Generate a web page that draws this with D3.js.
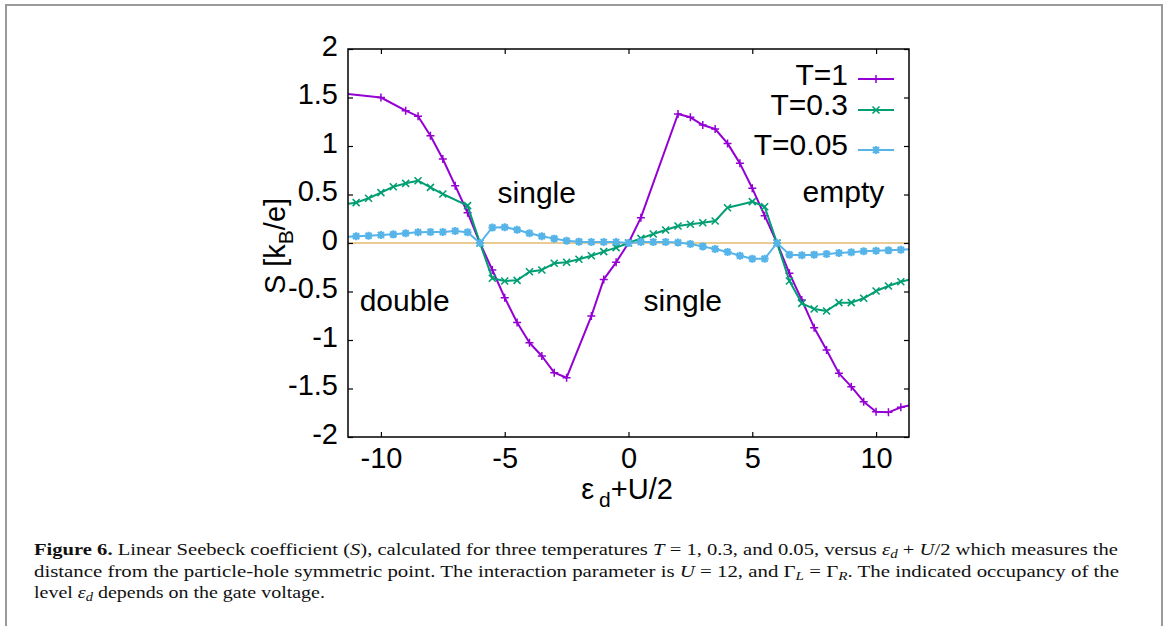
<!DOCTYPE html>
<html>
<head>
<meta charset="utf-8">
<script src="https://cdn.jsdelivr.net/npm/d3@7"></script>
<style>
  body { margin: 0; background: #fff; }
  svg { display: block; }
  .plot text { font-family: "Liberation Sans", Arial, sans-serif; }
  .caption { font-family: "Liberation Serif", "Times New Roman", serif; font-size: 16.5px; fill: #111; }
</style>
</head>
<body>
<svg id="chart" width="1168" height="626"></svg>
<script>
// ---- data ----
const xT1 = [-12, -10, -9, -8.5, -8, -7.5, -7, -6.5, -6, -5.5, -5, -4.5, -4, -3.5, -3, -2.5, -1.5, -1, -0.5, 0,
  0.5, 2, 2.5, 3, 3.5, 4, 4.5, 5, 5.5, 6, 6.5, 7, 7.5, 8, 8.5, 9, 9.5, 10, 10.5, 11, 12];
const sT1 = [1.553, 1.50, 1.364, 1.306, 1.106, 0.866, 0.591, 0.312, 0, -0.278, -0.564, -0.82, -1.028, -1.165, -1.337, -1.389, -0.753, -0.375, -0.199, 0,
  0.261, 1.33, 1.296, 1.216, 1.175, 1.027, 0.821, 0.564, 0.282, 0, -0.313, -0.588, -0.873, -1.103, -1.344, -1.481, -1.636, -1.739, -1.746, -1.694, -1.64];

const xT03 = [-11.5, -11, -10.5, -10, -9.5, -9, -8.5, -8, -7.5, -6.5, -6, -5.5, -5, -4.5, -4, -3.5, -3, -2.5, -2, -1.5, -1, -0.5, 0,
  0.5, 1, 1.5, 2, 2.5, 3, 3.5, 4, 5, 5.5, 6, 6.5, 7, 7.5, 8, 8.5, 9, 9.5, 10, 10.5, 11, 11.5];
const sT03 = [0.40, 0.416, 0.461, 0.519, 0.58, 0.615, 0.642, 0.574, 0.505, 0.385, 0, -0.364, -0.392, -0.385, -0.296, -0.278, -0.209, -0.199, -0.168, -0.131, -0.089, -0.048, 0,
  0.048, 0.093, 0.134, 0.175, 0.193, 0.209, 0.227, 0.364, 0.426, 0.374, 0, -0.392, -0.622, -0.68, -0.701, -0.615, -0.615, -0.57, -0.495, -0.443, -0.399, -0.37];

const xT005 = [-11.5, -11, -10.5, -10, -9.5, -9, -8.5, -8, -7.5, -7, -6.5, -6, -5.5, -5, -4.5, -4, -3.5, -3, -2.5, -2, -1.5, -1, -0.5, 0,
  0.5, 1, 1.5, 2, 2.5, 3, 3.5, 4, 4.5, 5, 5.5, 6, 6.5, 7, 7.5, 8, 8.5, 9, 9.5, 10, 10.5, 11, 11.5];
const sT005 = [0.062, 0.069, 0.075, 0.082, 0.089, 0.1, 0.11, 0.113, 0.113, 0.124, 0.11, 0, 0.16, 0.163, 0.137, 0.1, 0.069, 0.045, 0.024, 0.014, 0.01, 0.01, 0.01, 0,
  0.01, 0.01, 0.01, 0.005, -0.01, -0.035, -0.062, -0.093, -0.131, -0.162, -0.162, 0, -0.12, -0.127, -0.12, -0.113, -0.103, -0.096, -0.086, -0.079, -0.076, -0.069, -0.062];

const seriesNames = ["T=1", "T=0.3", "T=0.05"];
const xTicks = [-10, -5, 0, 5, 10];
const yTicks = [-2, -1.5, -1, -0.5, 0, 0.5, 1, 1.5, 2];
const regionLabels = ["single", "empty", "double", "single"];
const regionAt = [[-5.29, 0.41], [7.03, 0.42], [-10.86, -0.70], [0.61, -0.70]];

// ---- layout ----
const svg = d3.select("#chart");
const pLeft = 348, pRight = 909, pTop = 49, pBottom = 437;
const fs = 29;

const x = d3.scaleLinear().domain([-11.33, 11.33]).range([pLeft, pRight]);
const y = d3.scaleLinear().domain([-2, 2]).range([pBottom, pTop]);

// gnuplot prints a plain hyphen for negatives
const fmt = d => String(d);

// outer figure border (grey, open at the bottom)
svg.append("path")
  .attr("d", "M6,626V5H1162V626")
  .attr("fill", "none")
  .attr("stroke", "#9a9a9a")
  .attr("stroke-width", 2);

const plot = svg.append("g").attr("class", "plot");

plot.append("clipPath").attr("id", "clip")
  .append("rect")
  .attr("x", pLeft).attr("y", pTop)
  .attr("width", pRight - pLeft).attr("height", pBottom - pTop);

// zero line
plot.append("line")
  .attr("x1", pLeft).attr("x2", pRight)
  .attr("y1", y(0)).attr("y2", y(0))
  .attr("stroke", "#d8982a")
  .attr("stroke-width", 1);

// axes, ticks pointing inward on all four sides
const xAxis = d3.axisBottom(x).tickValues(xTicks).tickSizeInner(-5).tickSizeOuter(0).tickPadding(10)
  .tickFormat(fmt);
const yAxis = d3.axisLeft(y).tickValues(yTicks).tickSizeInner(-5).tickSizeOuter(0).tickPadding(10)
  .tickFormat(fmt);

function styleAxis(g) {
  g.select(".domain").remove();
  g.selectAll(".tick line").attr("stroke", "#000").attr("stroke-width", 1.2);
  g.selectAll(".tick text").attr("font-size", fs).attr("fill", "#000")
    .style("font-family", '"Liberation Sans", Arial, sans-serif');
}

plot.append("g").attr("transform", `translate(0,${pBottom})`).call(xAxis).call(styleAxis);
plot.append("g").attr("transform", `translate(0,${pTop})`)
  .call(d3.axisTop(x).tickValues(xTicks).tickSizeInner(-5).tickSizeOuter(0).tickFormat(""))
  .call(styleAxis);
plot.append("g").attr("transform", `translate(${pLeft},0)`).call(yAxis).call(styleAxis)
  .selectAll(".tick text").attr("dy", "0.22em");
plot.append("g").attr("transform", `translate(${pRight},0)`)
  .call(d3.axisRight(y).tickValues(yTicks).tickSizeInner(-5).tickSizeOuter(0).tickFormat(""))
  .call(styleAxis);

// series
const colors = ["#9400d3", "#009e73", "#56b4e9"];
const markers = [
  "M-4,0H4M0,-4V4",
  "M-3.5,-3.5L3.5,3.5M-3.5,3.5L3.5,-3.5",
  "M-4,0H4M0,-4V4M-3,-3L3,3M-3,3L3,-3"
];
const markerWidth = [1.5, 1.6, 2.2];
const series = [
  xT1.map((v, i) => [v, sT1[i]]),
  xT03.map((v, i) => [v, sT03[i]]),
  xT005.map((v, i) => [v, sT005[i]])
];

const line = d3.line().x(d => x(d[0])).y(d => y(d[1]));
const data = plot.append("g").attr("clip-path", "url(#clip)");

series.forEach((pts, k) => {
  data.append("path")
    .datum(pts)
    .attr("d", line)
    .attr("fill", "none")
    .attr("stroke", colors[k])
    .attr("stroke-width", 2)
    .attr("stroke-linejoin", "round");
  data.append("g").selectAll("path")
    .data(pts.filter(d => d[0] >= x.domain()[0] && d[0] <= x.domain()[1]))
    .join("path")
    .attr("transform", d => `translate(${x(d[0])},${y(d[1])})`)
    .attr("d", markers[k])
    .attr("fill", "none")
    .attr("stroke", colors[k])
    .attr("stroke-width", markerWidth[k]);
});

// frame
plot.append("rect")
  .attr("x", pLeft).attr("y", pTop)
  .attr("width", pRight - pLeft).attr("height", pBottom - pTop)
  .attr("fill", "none")
  .attr("stroke", "#000")
  .attr("stroke-width", 1.5);

// region labels
plot.selectAll(".region")
  .data(regionLabels)
  .join("text")
  .attr("class", "region")
  .attr("x", (d, i) => x(regionAt[i][0]))
  .attr("y", (d, i) => y(regionAt[i][1]))
  .attr("font-size", fs + 1)
  .text(d => d);

// legend
const legendBase = [84.5, 115, 155];
const legendLineY = [79, 110, 150];
const leg = plot.append("g");
seriesNames.forEach((name, k) => {
  leg.append("text")
    .attr("x", 848).attr("y", legendBase[k])
    .attr("text-anchor", "end")
    .attr("font-size", fs + 1)
    .text(name);
  leg.append("line")
    .attr("x1", 858).attr("x2", 894)
    .attr("y1", legendLineY[k]).attr("y2", legendLineY[k])
    .attr("stroke", colors[k]).attr("stroke-width", 2);
  leg.append("path")
    .attr("transform", `translate(876,${legendLineY[k]})`)
    .attr("d", markers[k])
    .attr("fill", "none")
    .attr("stroke", colors[k])
    .attr("stroke-width", markerWidth[k]);
});

// axis titles
const xl = plot.append("text")
  .attr("x", 627).attr("y", 499)
  .attr("text-anchor", "middle")
  .attr("font-size", fs);
xl.append("tspan").text("ε");
xl.append("tspan").attr("dx", 5).attr("dy", 8).attr("font-size", 21).text("d");
xl.append("tspan").attr("dy", -8).text("+U/2");

const yl = plot.append("text")
  .attr("transform", "translate(285,246) rotate(-90)")
  .attr("text-anchor", "middle")
  .attr("font-size", fs);
yl.append("tspan").text("S [k");
yl.append("tspan").attr("dy", 8).attr("font-size", 21).text("B");
yl.append("tspan").attr("dy", -8).text("/e]");

// caption
const cap = svg.append("g").attr("class", "caption");
const l1 = cap.append("text").attr("x", 34).attr("y", 555)
  .attr("textLength", 1084).attr("lengthAdjust", "spacingAndGlyphs");
l1.append("tspan").attr("font-weight", "bold").text("Figure 6.");
l1.append("tspan").text(" Linear Seebeck coefficient (");
l1.append("tspan").attr("font-style", "italic").text("S");
l1.append("tspan").text("), calculated for three temperatures ");
l1.append("tspan").attr("font-style", "italic").text("T");
l1.append("tspan").text(" =  1, 0.3, and 0.05, versus ");
l1.append("tspan").attr("font-style", "italic").text("ε");
l1.append("tspan").attr("font-style", "italic").attr("font-size", 12).attr("dy", 3).text("d");
l1.append("tspan").attr("dy", -3).text(" + ");
l1.append("tspan").attr("font-style", "italic").text("U");
l1.append("tspan").text("/2 which measures the");

const l2 = cap.append("text").attr("x", 34).attr("y", 577)
  .attr("textLength", 1085).attr("lengthAdjust", "spacingAndGlyphs");
l2.append("tspan").text("distance from the particle-hole symmetric point. The interaction parameter is ");
l2.append("tspan").attr("font-style", "italic").text("U");
l2.append("tspan").text(" =  12, and Γ");
l2.append("tspan").attr("font-style", "italic").attr("font-size", 12).attr("dy", 3).text("L");
l2.append("tspan").attr("dy", -3).text(" = Γ");
l2.append("tspan").attr("font-style", "italic").attr("font-size", 12).attr("dy", 3).text("R");
l2.append("tspan").attr("dy", -3).text(". The indicated occupancy of the");

const l3 = cap.append("text").attr("x", 34).attr("y", 598)
  .attr("textLength", 291).attr("lengthAdjust", "spacingAndGlyphs");
l3.append("tspan").text("level ");
l3.append("tspan").attr("font-style", "italic").text("ε");
l3.append("tspan").attr("font-style", "italic").attr("font-size", 12).attr("dy", 3).text("d");
l3.append("tspan").attr("dy", -3).text(" depends on the gate voltage.");
</script>
</body>
</html>
